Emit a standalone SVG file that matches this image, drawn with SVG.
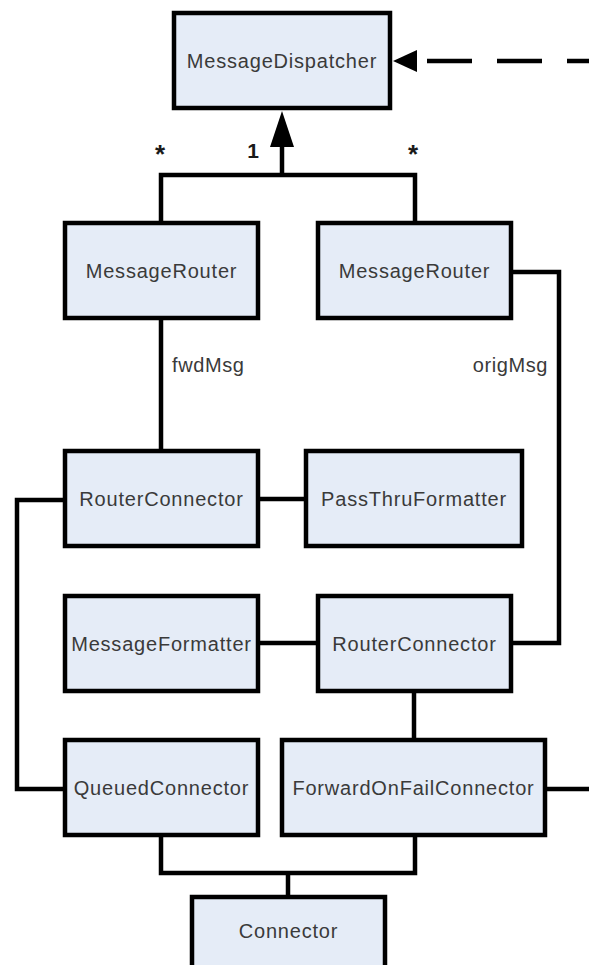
<svg xmlns="http://www.w3.org/2000/svg" width="589" height="965" viewBox="0 0 589 965">
<style>
.box{fill:#E5ECF7;stroke:#000;stroke-width:4.5}
.lbl{font-family:"Liberation Sans",Arial,sans-serif;font-size:20px;letter-spacing:0.8px;fill:#3a3a3a;text-anchor:middle}
.edge{fill:none;stroke:#000;stroke-width:4.5;stroke-linejoin:miter;stroke-linecap:butt}
.mult{font-family:"Liberation Sans",Arial,sans-serif;font-weight:bold;fill:#1a1a1a;text-anchor:middle}
.elbl{font-family:"Liberation Sans",Arial,sans-serif;font-size:20px;letter-spacing:0.6px;fill:#3a3a3a}
</style>
<rect width="589" height="965" fill="#fff"/>
<g id="connectors">
<path class="edge" d="M161,223 V175 H415 V223"/>
<path class="edge" d="M282,145 V175"/>
<polygon points="282,111 270,147 294,147" fill="#000"/>
<path class="edge" d="M161,318 V451"/>
<path class="edge" d="M511,272 H559 V643 H511"/>
<path class="edge" d="M258,499 H306"/>
<path class="edge" d="M65,500 H17 V789 H65"/>
<path class="edge" d="M258,643 H318"/>
<path class="edge" d="M414,691 V740"/>
<path class="edge" d="M545,789 H589"/>
<path class="edge" d="M161,835 V873 H415 V835"/>
<path class="edge" d="M288,873 V897"/>
<polygon points="393,61 417,50 417,72" fill="#000"/>
<path class="edge" d="M427,61 H589" stroke-dasharray="45 25"/>
<text class="mult" x="160" y="163" font-size="26">*</text>
<text class="mult" x="253" y="158" font-size="21">1</text>
<text class="mult" x="413" y="163" font-size="26">*</text>
<text class="elbl" x="172" y="372">fwdMsg</text>
<text class="elbl" x="548" y="372" text-anchor="end">origMsg</text>
</g>
<g id="n-dispatcher"><rect class="box" x="174" y="13" width="216" height="95"/><text class="lbl" x="282" y="68">MessageDispatcher</text></g>
<g id="n-router1"><rect class="box" x="65" y="223" width="193" height="95"/><text class="lbl" x="161.5" y="278">MessageRouter</text></g>
<g id="n-router2"><rect class="box" x="318" y="223" width="193" height="95"/><text class="lbl" x="414.5" y="278">MessageRouter</text></g>
<g id="n-routerconn1"><rect class="box" x="65" y="451" width="193" height="95"/><text class="lbl" x="161.5" y="506">RouterConnector</text></g>
<g id="n-passthru"><rect class="box" x="306" y="451" width="216" height="95"/><text class="lbl" x="414" y="506">PassThruFormatter</text></g>
<g id="n-msgformatter"><rect class="box" x="65" y="596" width="193" height="95"/><text class="lbl" x="161.5" y="651">MessageFormatter</text></g>
<g id="n-routerconn2"><rect class="box" x="318" y="596" width="193" height="95"/><text class="lbl" x="414.5" y="651">RouterConnector</text></g>
<g id="n-queued"><rect class="box" x="65" y="740" width="193" height="95"/><text class="lbl" x="161.5" y="795">QueuedConnector</text></g>
<g id="n-fwdonfail"><rect class="box" x="282" y="740" width="263" height="95"/><text class="lbl" x="413.5" y="795">ForwardOnFailConnector</text></g>
<g id="n-connector"><rect class="box" x="192" y="897" width="193" height="95"/><text class="lbl" x="288.5" y="938">Connector</text></g>
</svg>
